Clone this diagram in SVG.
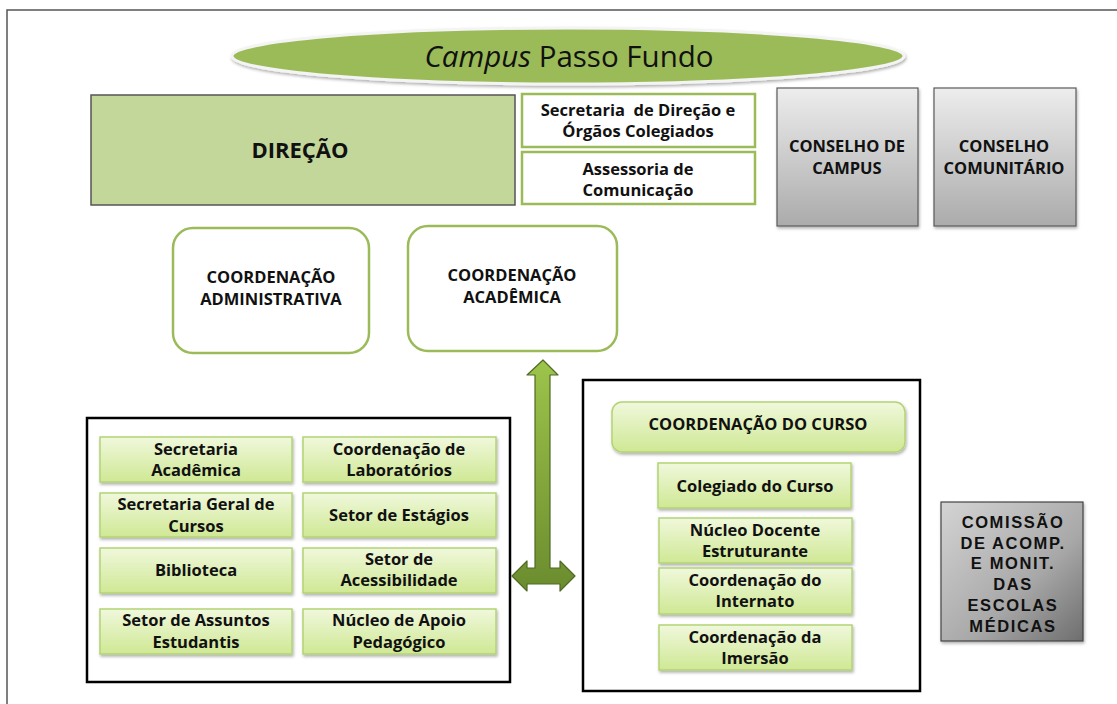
<svg xmlns="http://www.w3.org/2000/svg" width="1117" height="704" viewBox="0 0 1117 704">
<defs>
<linearGradient id="gGreen" x1="0" y1="0" x2="0" y2="1">
<stop offset="0" stop-color="#f0f8dc"/>
<stop offset="1" stop-color="#cfe894"/>
</linearGradient>
<linearGradient id="gGray" x1="0" y1="0" x2="0" y2="1">
<stop offset="0" stop-color="#ededed"/>
<stop offset="1" stop-color="#ababab"/>
</linearGradient>
<linearGradient id="gDark" x1="0" y1="0" x2="1" y2="1">
<stop offset="0" stop-color="#d4d4d4"/>
<stop offset="0.6" stop-color="#a8a8a8"/>
<stop offset="1" stop-color="#6e6e6e"/>
</linearGradient>
<linearGradient id="gArrow" x1="0" y1="0" x2="0" y2="1">
<stop offset="0" stop-color="#9dc44b"/>
<stop offset="1" stop-color="#6b8c2e"/>
</linearGradient>
<filter id="sh" x="-10%" y="-10%" width="120%" height="130%">
<feDropShadow dx="1" dy="2" stdDeviation="1.5" flood-color="#000" flood-opacity="0.3"/>
</filter>
</defs>
<style>
.t{font-family:"Open Sans",Lato,"Liberation Sans",sans-serif;font-weight:bold;font-size:16.5px;fill:#111;text-anchor:middle}
.big{font-size:22px}
.a{font-family:"Liberation Sans",Arial,sans-serif;font-weight:bold;font-size:16.5px;letter-spacing:1.6px;fill:#111;text-anchor:middle}
.gb{fill:url(#gGreen);stroke:#b3d474;stroke-width:1.5;filter:url(#sh)}
.wb{fill:#fff;stroke:#9bbb59;stroke-width:2.5}
.rb{fill:#fff;stroke:#9bbb59;stroke-width:2.5}
.gr{fill:url(#gGray);stroke:#5a5a5a;stroke-width:1.2;filter:url(#sh)}
.ct{fill:none;stroke:#000;stroke-width:2.5}
</style>
<rect width="1117" height="704" fill="#fff"/>
<path d="M7 704 V10 H1117" fill="none" stroke="#555" stroke-width="1.5"/>

<g id="title">
<ellipse cx="568" cy="56" rx="336" ry="28" fill="#9bbb59" stroke="#f4f4f4" stroke-width="3" filter="url(#sh)"/>
<text x="569" y="67" font-family="'Open Sans',Lato,'Liberation Sans',sans-serif" font-size="29.5" fill="#111" text-anchor="middle"><tspan font-style="italic">Campus</tspan> Passo Fundo</text>
</g>

<g id="direcao">
<rect x="91" y="95" width="424" height="110" fill="#c4d79b" stroke="#555" stroke-width="1.5"/>
<text class="t big" x="300" y="158">DIREÇÃO</text>
</g>

<g id="secretaria-direcao">
<rect class="wb" x="522" y="94" width="233" height="53"/>
<text class="t" x="638" y="116" xml:space="preserve">Secretaria  de Direção e</text>
<text class="t" x="638" y="137">Órgãos Colegiados</text>
</g>

<g id="assessoria">
<rect class="wb" x="522" y="152" width="233" height="52"/>
<text class="t" x="638" y="175">Assessoria de</text>
<text class="t" x="638" y="196">Comunicação</text>
</g>

<g id="conselho-campus">
<rect class="gr" x="777" y="88" width="141" height="138"/>
<text class="t" x="847" y="152">CONSELHO DE</text>
<text class="t" x="847" y="174">CAMPUS</text>
</g>

<g id="conselho-comunitario">
<rect class="gr" x="934" y="88" width="142" height="138"/>
<text class="t" x="1004" y="152">CONSELHO</text>
<text class="t" x="1004" y="174">COMUNITÁRIO</text>
</g>

<g id="coord-administrativa">
<rect class="rb" x="173" y="228" width="196" height="125" rx="20"/>
<text class="t" x="271" y="283">COORDENAÇÃO</text>
<text class="t" x="271" y="305">ADMINISTRATIVA</text>
</g>

<g id="coord-academica">
<rect class="rb" x="408" y="226" width="209" height="125" rx="20"/>
<text class="t" x="512" y="281">COORDENAÇÃO</text>
<text class="t" x="512" y="303">ACADÊMICA</text>
</g>

<g id="connectors">
<path d="M543 360 L558 375 L550 375 L550 568 L560 568 L560 561 L575 576 L560 591 L560 584 L527 584 L527 591 L512 576 L527 561 L527 568 L535 568 L535 375 L527 375 Z" fill="url(#gArrow)" stroke="#4f6a22" stroke-width="1.2" stroke-linejoin="round"/>
</g>

<g id="setores">
<rect class="ct" x="87" y="418" width="423" height="264"/>
</g>
<g id="secretaria-academica">
<rect class="gb" x="100" y="437" width="192" height="45"/>
<text class="t" x="196" y="455">Secretaria</text>
<text class="t" x="196" y="476">Acadêmica</text>
</g>
<g id="coord-laboratorios">
<rect class="gb" x="303" y="437" width="193" height="45"/>
<text class="t" x="399" y="455">Coordenação de</text>
<text class="t" x="399" y="476">Laboratórios</text>
</g>
<g id="secretaria-geral">
<rect class="gb" x="100" y="493" width="192" height="44"/>
<text class="t" x="196" y="510">Secretaria Geral de</text>
<text class="t" x="196" y="532">Cursos</text>
</g>
<g id="setor-estagios">
<rect class="gb" x="303" y="493" width="193" height="44"/>
<text class="t" x="399" y="521">Setor de Estágios</text>
</g>
<g id="biblioteca">
<rect class="gb" x="100" y="548" width="192" height="45"/>
<text class="t" x="196" y="576">Biblioteca</text>
</g>
<g id="setor-acessibilidade">
<rect class="gb" x="303" y="548" width="193" height="45"/>
<text class="t" x="399" y="565">Setor de</text>
<text class="t" x="399" y="586">Acessibilidade</text>
</g>
<g id="assuntos-estudantis">
<rect class="gb" x="100" y="609" width="192" height="45"/>
<text class="t" x="196" y="626">Setor de Assuntos</text>
<text class="t" x="196" y="648">Estudantis</text>
</g>
<g id="nucleo-apoio">
<rect class="gb" x="303" y="609" width="193" height="45"/>
<text class="t" x="399" y="626">Núcleo de Apoio</text>
<text class="t" x="399" y="648">Pedagógico</text>
</g>

<g id="curso">
<rect class="ct" x="583" y="380" width="337" height="311"/>
</g>
<g id="coord-curso">
<rect class="gb" x="612" y="402" width="293" height="50" rx="10"/>
<text class="t" x="758" y="430">COORDENAÇÃO DO CURSO</text>
</g>
<g id="colegiado">
<rect class="gb" x="658" y="463" width="193" height="45"/>
<text class="t" x="755" y="492">Colegiado do Curso</text>
</g>
<g id="nde">
<rect class="gb" x="659" y="518" width="193" height="45"/>
<text class="t" x="755" y="536">Núcleo Docente</text>
<text class="t" x="755" y="557">Estruturante</text>
</g>
<g id="internato">
<rect class="gb" x="659" y="568" width="193" height="46"/>
<text class="t" x="755" y="586">Coordenação do</text>
<text class="t" x="755" y="607">Internato</text>
</g>
<g id="imersao">
<rect class="gb" x="659" y="625" width="193" height="45"/>
<text class="t" x="755" y="643">Coordenação da</text>
<text class="t" x="755" y="664">Imersão</text>
</g>

<g id="comissao">
<rect x="941" y="502" width="142" height="139" fill="url(#gDark)" stroke="#444" stroke-width="1.2" filter="url(#sh)"/>
<text class="a" x="1013" y="528">COMISSÃO</text>
<text class="a" x="1013" y="549">DE ACOMP.</text>
<text class="a" x="1013" y="569">E MONIT.</text>
<text class="a" x="1013" y="590">DAS</text>
<text class="a" x="1013" y="611">ESCOLAS</text>
<text class="a" x="1013" y="632">MÉDICAS</text>
</g>
</svg>
